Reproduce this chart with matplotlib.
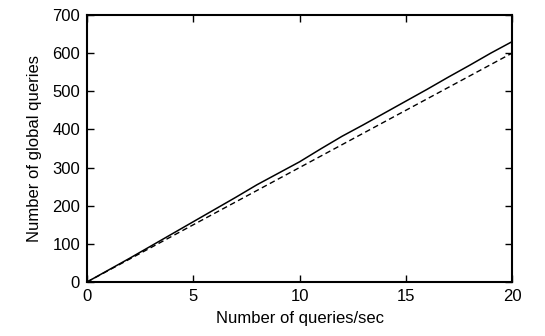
import matplotlib
matplotlib.use("Agg")
import matplotlib.pyplot as plt

plt.rcParams['font.family'] = ['Liberation Sans', 'DejaVu Sans']

# queries/sec
rate = [0, 1, 2, 3, 4, 5, 6, 7, 8, 9, 10, 11, 12, 13, 14, 15, 16, 17, 18, 19, 20]
# measured global queries (solid)
measured = [0, 31, 62, 94, 126, 158, 190, 222, 255, 285, 315, 349, 382, 412, 443, 474, 505, 537, 568, 600, 630]
# expected global queries (dashed)
expected = [0, 30, 60, 90, 120, 150, 180, 210, 240, 270, 300, 330, 360, 390, 420, 450, 480, 510, 540, 570, 600]

fig = plt.figure(figsize=(5.45, 3.36), dpi=100)
ax = fig.add_axes([87/545, 1 - 282/336, (512 - 87)/545, (282 - 15)/336])

ax.plot(rate, measured, color='black', lw=1.1, ls='-')
ax.plot(rate, expected, color='black', lw=1.0, ls=(0, (4, 2.5)))

ax.set_xlim(0, 20)
ax.set_ylim(0, 700)
ax.set_xticks([0, 5, 10, 15, 20])
ax.set_yticks(range(0, 701, 100))
ax.tick_params(direction='in', top=True, right=True, length=5, width=1, labelsize=12, pad=5)
for s in ax.spines.values():
    s.set_linewidth(1.5)

ax.set_xlabel("Number of queries/sec", fontsize=12, labelpad=5)
ax.set_ylabel("Number of global queries", fontsize=12, labelpad=7)

fig.savefig("out.png", dpi=100)
